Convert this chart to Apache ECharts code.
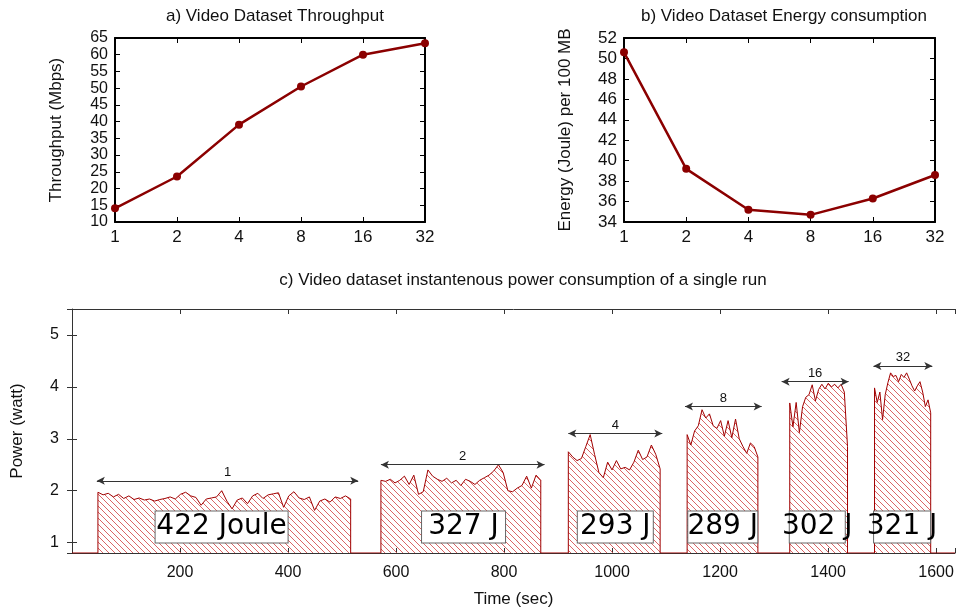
<!DOCTYPE html>
<html>
<head>
<meta charset="utf-8">
<title>Video dataset</title>
<script src="https://cdn.jsdelivr.net/npm/echarts@6/dist/echarts.min.js"></script>
<style>
  html, body { margin: 0; padding: 0; background: #fff; }
  #chart { width: 958px; height: 612px; }
</style>
</head>
<body>
<div id="chart"></div>
<script>
// ---- data ----
const threads = ['1', '2', '4', '8', '16', '32'];
const throughput = [14.1, 23.6, 39.1, 50.5, 60.0, 63.4];
const energyPer100MB = [50.6, 39.2, 35.2, 34.7, 36.3, 38.6];

// instantaneous power (watt), one array per run, samples spread evenly over the run
const idlePower = 0.8;
const timeMax = 1635;
const runStart = [48, 572, 919, 1139, 1329, 1486];
const runEnd = [516, 868, 1089, 1270, 1436, 1590];
const run1 = [1.97, 1.92, 1.95, 1.88, 1.93, 1.85, 1.90, 1.83, 1.86, 1.82, 1.84, 1.80, 1.83, 1.85, 1.88, 1.84, 1.93,
  1.97, 1.90, 1.87, 1.72, 1.84, 1.86, 1.88, 2.00, 1.80, 1.65, 1.82, 1.86, 1.75, 1.90, 1.95, 1.85, 1.92, 1.94, 1.96,
  1.68, 1.90, 1.98, 1.86, 1.83, 1.88, 1.62, 1.80, 1.84, 1.78, 1.88, 1.85, 1.90, 1.84];
const run2 = [2.20, 2.18, 2.22, 2.15, 2.20, 2.28, 2.12, 2.30, 1.93, 1.98, 2.40, 2.28, 2.22, 2.18, 2.24, 2.15, 2.20,
  2.10, 2.22, 2.18, 2.12, 2.20, 2.25, 2.30, 2.38, 2.50, 2.35, 2.00, 1.98, 2.05, 2.10, 2.28, 2.05, 2.30, 2.20];
const run4 = [2.75, 2.65, 2.58, 2.62, 2.85, 3.08, 2.70, 2.35, 2.25, 2.55, 2.40, 2.58, 2.42, 2.45, 2.40, 2.55, 2.78,
  2.60, 2.65, 2.88, 2.70, 2.42];
const run8 = [3.08, 2.88, 3.15, 3.25, 3.56, 3.40, 3.48, 3.25, 3.20, 3.35, 3.05, 3.35, 3.02, 3.38, 3.00, 2.85, 2.72,
  2.92, 2.85, 2.65];
const run16 = [3.69, 3.23, 3.70, 3.12, 3.62, 3.80, 3.85, 4.04, 3.73, 3.95, 4.05, 3.96, 4.07, 4.00, 4.05, 3.98, 4.05,
  3.90, 2.85];
const run32 = [3.98, 3.70, 3.90, 3.37, 3.85, 4.08, 4.27, 4.20, 4.22, 4.10, 4.24, 4.18, 4.27, 4.15, 4.02, 3.92, 4.02,
  4.10, 3.90, 3.62, 3.75, 3.50];
const runs = [run1, run2, run4, run8, run16, run32];

// arrows above each run and the energy boxes
const arrowFrom = [46, 572, 919, 1135, 1314, 1484];
const arrowTo = [530, 875, 1093, 1277, 1438, 1593];
const arrowLevel = [2.19, 2.5, 3.1, 3.62, 4.1, 4.4];
const energyText = ['422 Joule', '327 J', '293 J', '289 J', '302 J', '321 J'];
const energyTime = [277, 725, 1006, 1205, 1380, 1537];
const energyLevel = 1.3;

// ---- build the power line ----
const powerData = [[0, idlePower]];
runs.forEach((vals, r) => {
    const step = (runEnd[r] - runStart[r]) / (vals.length - 1);
    powerData.push([runStart[r], idlePower]);
    vals.forEach((v, i) => powerData.push([runStart[r] + i * step, v]));
    powerData.push([runEnd[r], idlePower]);
});
powerData.push([timeMax, idlePower]);

// hatch pattern "\\\\"
function makeHatch() {
    const c = document.createElement('canvas');
    c.width = 6; c.height = 6;
    const ctx = c.getContext('2d');
    ctx.strokeStyle = '#d65555';
    ctx.lineWidth = 0.9;
    [-6, 0, 6].forEach(o => {
        ctx.beginPath();
        ctx.moveTo(o - 1, -1);
        ctx.lineTo(o + 7, 7);
        ctx.stroke();
    });
    return c;
}

const font = 'Liberation Sans';
const darkRed = '#8b0000';
const boxWidths = [132, 83, 75, 69, 55, 56];

function catAxes(grid, pos) {
    return {
        type: 'category', gridIndex: grid, data: threads, boundaryGap: false, position: pos,
        axisLine: { lineStyle: { color: '#000', width: 2 } },
        axisTick: { show: true, inside: true, length: 5, lineStyle: { color: '#000' } },
        axisLabel: { show: pos === 'bottom', fontFamily: font, fontSize: 17, color: '#111', margin: 7,
            interval: 0 },
        splitLine: { show: false }
    };
}
function valAxis(grid, pos, min, max, interval, name, gap, size) {
    return {
        type: 'value', gridIndex: grid, position: pos, min: min, max: max, interval: interval,
        name: pos === 'left' ? name : '', nameLocation: 'middle', nameGap: gap,
        nameTextStyle: { fontFamily: font, fontSize: 17, color: '#111' },
        axisLine: { show: true, lineStyle: { color: '#000', width: 2 } },
        axisTick: { show: true, inside: true, length: 5, lineStyle: { color: '#000' } },
        axisLabel: { show: pos === 'left', fontFamily: font, fontSize: size, color: '#111', margin: 7 },
        splitLine: { show: false }
    };
}
const intLabel = v => (Math.abs(v - Math.round(v)) < 1e-6 ? String(Math.round(v)) : '');

const option = {
    animation: false,
    title: [
        { text: 'a) Video Dataset Throughput', left: 270, top: 3, textAlign: 'center',
          textStyle: { fontFamily: font, fontSize: 17, fontWeight: 'normal', color: '#111' } },
        { text: 'b) Video Dataset Energy consumption', left: 779, top: 3, textAlign: 'center',
          textStyle: { fontFamily: font, fontSize: 17, fontWeight: 'normal', color: '#111' } },
        { text: 'c) Video dataset instantenous power consumption of a single run', left: 518, top: 267,
          textAlign: 'center', textStyle: { fontFamily: font, fontSize: 17, fontWeight: 'normal', color: '#111' } }
    ],
    grid: [
        { left: 115, top: 38, width: 310, height: 184 },
        { left: 624, top: 38, width: 311, height: 184 },
        { left: 72, top: 309, width: 885, height: 244 }
    ],
    xAxis: [
        catAxes(0, 'bottom'), catAxes(0, 'top'),
        catAxes(1, 'bottom'), catAxes(1, 'top'),
        {
            type: 'value', gridIndex: 2, position: 'bottom', min: 0, max: timeMax, interval: 200,
            name: 'Time (sec)', nameLocation: 'middle', nameGap: 38,
            nameTextStyle: { fontFamily: font, fontSize: 17, color: '#111' },
            axisLine: { lineStyle: { color: '#333', width: 1 } },
            axisTick: { inside: true, length: 5, lineStyle: { color: '#333' } },
            axisLabel: { fontFamily: font, fontSize: 16, color: '#111', margin: 12,
                formatter: v => (v > 0 && v % 200 === 0 ? String(v) : '') },
            splitLine: { show: false }
        },
        {
            type: 'value', gridIndex: 2, position: 'top', min: 0, max: timeMax, interval: 200,
            axisLine: { lineStyle: { color: '#333', width: 1 } },
            axisTick: { inside: true, length: 5, lineStyle: { color: '#333' } },
            axisLabel: { show: false }, splitLine: { show: false }
        }
    ],
    yAxis: [
        valAxis(0, 'left', 10, 65, 5, 'Throughput (Mbps)', 50, 16),
        valAxis(0, 'right', 10, 65, 5, '', 0, 16),
        valAxis(1, 'left', 34, 52, 2, 'Energy (Joule) per 100 MB', 50, 17),
        valAxis(1, 'right', 34, 52, 2, '', 0, 17),
        {
            type: 'value', gridIndex: 2, position: 'left', min: 0.8, max: 5.5,
            name: 'Power (watt)', nameLocation: 'middle', nameGap: 46,
            nameTextStyle: { fontFamily: font, fontSize: 17, color: '#111' },
            axisLine: { show: true, lineStyle: { color: '#333', width: 1 } },
            axisTick: { show: true, inside: true, length: 5, lineStyle: { color: '#333' } },
            axisLabel: { fontFamily: font, fontSize: 16, color: '#111', margin: 13, formatter: intLabel },
            splitLine: { show: false }
        },
        {
            type: 'value', gridIndex: 2, position: 'right', min: 0.8, max: 5.5,
            axisLine: { show: false },
            axisTick: { show: true, inside: true, length: 5, lineStyle: { color: '#333' } },
            axisLabel: { show: false }, splitLine: { show: false }
        }
    ],
    series: [
        {
            type: 'line', xAxisIndex: 0, yAxisIndex: 0, data: throughput,
            symbol: 'circle', symbolSize: 8,
            lineStyle: { color: darkRed, width: 2.5 }, itemStyle: { color: darkRed }
        },
        {
            type: 'line', xAxisIndex: 2, yAxisIndex: 2, data: energyPer100MB,
            symbol: 'circle', symbolSize: 8,
            lineStyle: { color: darkRed, width: 2.5 }, itemStyle: { color: darkRed }
        },
        {
            type: 'line', xAxisIndex: 4, yAxisIndex: 4, data: powerData,
            showSymbol: false, symbol: 'none',
            lineStyle: { color: '#a00000', width: 1 },
            areaStyle: { origin: 'start', opacity: 1, color: { image: makeHatch(), repeat: 'repeat' } },
            z: 2
        },
        {
            type: 'scatter', xAxisIndex: 4, yAxisIndex: 4, symbol: 'rect', symbolSize: 1,
            itemStyle: { color: 'rgba(0,0,0,0)', opacity: 1 }, z: 5,
            data: energyText.map((t, i) => ({
                name: t, value: [energyTime[i], energyLevel],
                label: { width: boxWidths[i] - 4 }
            })),
            label: {
                show: true, position: 'inside', formatter: '{b}', overflow: 'none', opacity: 1,
                fontFamily: 'DejaVu Sans', fontSize: 28, color: '#000', align: 'center',
                textBorderWidth: 0,
                backgroundColor: '#fff', borderColor: '#666', borderWidth: 1,
                padding: [1, 2, 0, 2], lineHeight: 30
            },
            markLine: {
                silent: true, symbol: ['arrow', 'arrow'], symbolSize: [6, 8],
                lineStyle: { color: '#333', width: 1, type: 'solid' },
                label: { show: true, position: 'insideMiddleTop', distance: 2, formatter: '{b}',
                    fontFamily: font, fontSize: 13, color: '#111' },
                data: threads.map((t, i) => [
                    { name: t, coord: [arrowFrom[i], arrowLevel[i]] },
                    { coord: [arrowTo[i], arrowLevel[i]] }
                ])
            }
        }
    ]
};

const myChart = echarts.init(document.getElementById('chart'));
myChart.setOption(option);
window.addEventListener('resize', () => myChart.resize());
</script>
</body>
</html>
